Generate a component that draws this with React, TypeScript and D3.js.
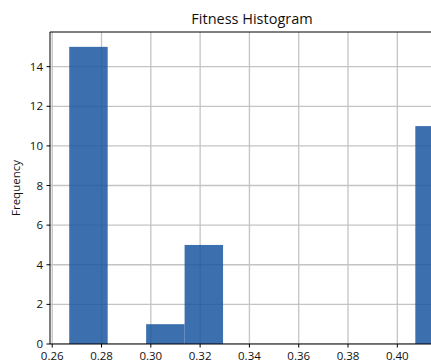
import React from "react";
import * as d3 from "d3";

// Histogram bins (left edges) and their counts
const binEdges = [0.2669, 0.2825, 0.2981, 0.3137, 0.3293, 0.3449, 0.3605, 0.3761, 0.3917, 0.4073, 0.4229];
const counts = [15, 0, 1, 5, 0, 0, 0, 0, 0, 11];
const xTicks = [0.26, 0.28, 0.3, 0.32, 0.34, 0.36, 0.38, 0.4];
const yTicks = [0, 2, 4, 6, 8, 10, 12, 14];
const title = "Fitness Histogram";
const yLabel = "Frequency";

const W = 431;
const H = 363;
const FONT = "'Open Sans', 'DejaVu Sans', sans-serif";

export default function App() {
  const lo = binEdges[0];
  const hi = binEdges[binEdges.length - 1];
  const pad = (hi - lo) * 0.05;
  const maxCount = d3.max(counts) as number;

  const x = d3.scaleLinear().domain([lo - pad, hi + pad]).range([50, 473]);
  const y = d3.scaleLinear().domain([0, maxCount * 1.05]).range([344, 32]);

  const [x0, x1] = x.range();
  const [y0, y1] = y.range();

  return (
    <div style={{ position: "fixed", left: 0, top: 0 }}>
      <svg width={W} height={H} style={{ display: "block", background: "#fff" }}>
        <defs>
          <clipPath id="plot">
            <rect x={x0} y={y1} width={x1 - x0} height={y0 - y1} />
          </clipPath>
        </defs>
        {/* grid */}
        <g stroke="#c4c4c4" strokeWidth={1.3} clipPath="url(#plot)">
          {xTicks.map((t) => (
            <line key={"gx" + t} x1={x(t)} x2={x(t)} y1={y1} y2={y0} />
          ))}
          {yTicks.map((t) => (
            <line key={"gy" + t} x1={x0} x2={x1} y1={y(t)} y2={y(t)} />
          ))}
        </g>
        {/* bars */}
        <g clipPath="url(#plot)">
          {counts.map((c, i) =>
            c > 0 ? (
              <rect
                key={i}
                x={x(binEdges[i])}
                width={x(binEdges[i + 1]) - x(binEdges[i])}
                y={y(c)}
                height={y(0) - y(c)}
                fill="#1a56a0"
                fillOpacity={0.85}
              />
            ) : null
          )}
        </g>
        {/* spines */}
        <g stroke="#000" strokeWidth={1}>
          <line x1={x0} x2={x0} y1={y1} y2={y0} />
          <line x1={x0} x2={x1} y1={y0} y2={y0} />
          <line x1={x0} x2={x1} y1={y1} y2={y1} />
          <line x1={x1} x2={x1} y1={y1} y2={y0} />
        </g>
        {/* axes ticks and labels */}
        <g fontFamily={FONT} fontSize={11.5} fill="#111">
          {xTicks.map((t) => (
            <g key={"tx" + t}>
              <line x1={x(t)} x2={x(t)} y1={y0} y2={y0 + 3.5} stroke="#000" />
              <text x={x(t)} y={y0 + 16} textAnchor="middle">
                {d3.format(".2f")(t)}
              </text>
            </g>
          ))}
          {yTicks.map((t) => (
            <g key={"ty" + t}>
              <line x1={x0 - 3.5} x2={x0} y1={y(t)} y2={y(t)} stroke="#000" />
              <text x={x0 - 7} y={y(t)} dy="0.35em" textAnchor="end">
                {t}
              </text>
            </g>
          ))}
        </g>
        <text
          x={252}
          y={24}
          textAnchor="middle"
          fontFamily={FONT}
          fontSize={14.5}
          fill="#111"
        >
          {title}
        </text>
        <text
          transform={`translate(20,${(y0 + y1) / 2}) rotate(-90)`}
          textAnchor="middle"
          fontFamily={FONT}
          fontSize={11.5}
          fill="#111"
        >
          {yLabel}
        </text>
      </svg>
    </div>
  );
}
